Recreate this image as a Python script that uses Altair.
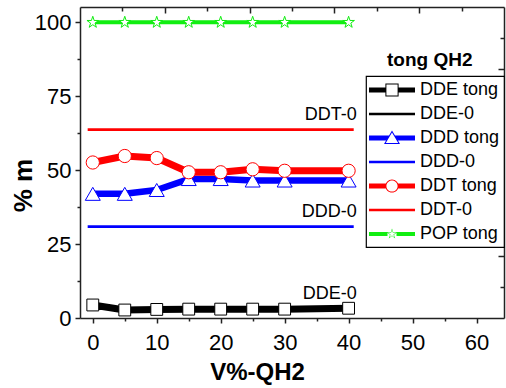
import altair as alt
import pandas as pd

FONT = "Liberation Sans"
PLOT_W, PLOT_H = 424, 311

# V%-QH2 sampling points
v_qh2 = [0, 5, 10, 15, 20, 25, 30, 40]

# % m of each compound at every sampling point
dde_tong = [4.4, 2.7, 2.9, 3.0, 3.0, 3.0, 3.0, 3.3]
ddd_tong = [42.0, 42.0, 43.3, 47.0, 47.0, 46.5, 46.5, 46.5]
ddt_tong = [52.6, 54.8, 54.1, 49.3, 49.3, 50.3, 49.8, 49.8]
pop_tong = [100, 100, 100, 100, 100, 100, 100, 100]

# initial levels, drawn as flat reference lines
ref_names = ["DDE-0", "DDD-0", "DDT-0"]
ref_levels = [3.2, 30.9, 63.7]
ref_span = [-0.8, 40.8]

tong_names = ["DDE tong", "DDD tong", "DDT tong", "POP tong"]
tong_values = [dde_tong, ddd_tong, ddt_tong, pop_tong]

series_order = ["DDE tong", "DDE-0", "DDD tong", "DDD-0", "DDT tong", "DDT-0", "POP tong"]
series_colors = ["#000000", "#000000", "#0000ff", "#0000ff", "#ff0000", "#ff0000", "#11ee11"]
line_widths = [7, 2.7, 6.5, 2.7, 7, 2.7, 4]

tong_df = pd.DataFrame([
    {"series": n, "x": x, "y": y}
    for n, vals in zip(tong_names, tong_values)
    for x, y in zip(v_qh2, vals)
])
ref_df = pd.DataFrame([
    {"series": n, "x": x, "y": lvl}
    for n, lvl in zip(ref_names, ref_levels)
    for x in ref_span
])
label_df = pd.DataFrame({
    "series": ref_names,
    "x": [ref_span[1]] * len(ref_names),
    "y": ref_levels,
})

# ---------------------------------------------------------------- symbols
STAR_UNIT = [(0, -1), (0.2245, -0.309), (0.9511, -0.309), (0.3633, 0.118),
             (0.5878, 0.809), (0, 0.382), (-0.5878, 0.809), (-0.3633, 0.118),
             (-0.9511, -0.309), (-0.2245, -0.309)]


def poly(points):
    return "M" + "L".join(f"{x:.3f},{y:.3f}" for x, y in points) + "Z"


STAR = poly(STAR_UNIT)


def rect(x0, x1, h):
    return f"M{x0},{-h}H{x1}V{h}H{x0}Z"


def split_line(gap, h, half_len=2.3):
    return rect(-half_len, -gap, h) + rect(gap, half_len, h)


def square_ring(a, b):
    return f"M{-a},{-a}H{a}V{a}H{-a}Z" + f"M{-b},{-b}V{b}H{b}V{-b}Z"


def circle_ring(r, ri):
    outer = f"M{-r},0A{r},{r} 0 1 1 {r},0A{r},{r} 0 1 1 {-r},0Z"
    inner = f"M{-ri},0A{ri},{ri} 0 1 0 {ri},0A{ri},{ri} 0 1 0 {-ri},0Z"
    return outer + inner


def triangle_symbol(h, half_len=2.3):
    # outline ring plus the line pieces that stop at the triangle sides
    apex, base, half_w = -0.75, 0.6, 0.8
    slope = half_w / (base - apex)
    xt, xb = slope * (-h - apex), slope * (h - apex)
    left = poly([(-half_len, -h), (-xt, -h), (-xb, h), (-half_len, h)])
    right = poly([(xt, -h), (half_len, -h), (half_len, h), (xb, h)])
    outer = poly([(0, apex), (half_w, base), (-half_w, base)])
    inner = poly([(0, -0.554), (-0.624, 0.5), (0.624, 0.5)])
    return left + right + outer + inner


def star_ring(r, ri):
    outer = poly([(x * r, y * r) for x, y in STAR_UNIT])
    inner = poly([(x * ri, y * ri) for x, y in reversed(STAR_UNIT)])
    return outer + inner


thin = rect(-2.3, 2.3, 0.13)
legend_paths = [
    split_line(0.62, 0.26) + square_ring(0.66, 0.56),
    thin,
    triangle_symbol(0.26),
    thin,
    split_line(0.6, 0.26) + circle_ring(0.66, 0.56),
    thin,
    split_line(0.45, 0.2) + star_ring(0.55, 0.4),
]

marker_style = {
    "DDE tong": ("square", 140),
    "DDD tong": ("triangle-up", 225),
    "DDT tong": ("circle", 175),
    "POP tong": (STAR, 150),
}

# ---------------------------------------------------------------- scales/axes
x_scale = alt.Scale(domain=[-2, 64.3], nice=False, zero=False)
y_scale = alt.Scale(domain=[0, 105.2], nice=False, zero=False)
frame_scale = alt.Scale(domain=[0, 10], nice=False, zero=False)


def tick_len(test, major, minor):
    return {"condition": {"test": test, "value": major}, "value": minor}


x_axis = alt.Axis(
    orient="bottom", values=list(range(0, 61, 5)),
    labelExpr="datum.value % 10 === 0 ? datum.label : ''",
    tickSize=tick_len("datum.value % 10 === 0", 5, 3),
    labelPadding=9, title="V%-QH2",
    titleX=177, titleY=61, titleBaseline="alphabetic", titleFontSize=24,
)
y_axis = alt.Axis(
    orient="left", values=[i * 12.5 for i in range(9)],
    labelExpr="datum.value % 25 === 0 ? datum.label : ''",
    tickSize=tick_len("datum.value % 25 === 0", 5, 3),
    labelPadding=4, title="% m",
    titleX=-49, titleY=178, titleAngle=270, titleBaseline="alphabetic",
    titleFontSize=26,
)
# frame axes on the top and right edges, ticks pointing into the plot
top_axis = alt.Axis(
    orient="bottom", offset=-PLOT_H, values=list(range(1, 10)),
    labels=False, title=None,
    tickSize=tick_len("datum.value % 2 === 0", 6, 4),
)
right_axis = alt.Axis(
    orient="left", offset=-PLOT_W, values=list(range(1, 10)),
    labels=False, title=None,
    tickSize=tick_len("datum.value % 2 === 0", 6, 4),
)

X = alt.X("x:Q", scale=x_scale, axis=None)
Y = alt.Y("y:Q", scale=y_scale, axis=None)


def style_of(name):
    i = series_order.index(name)
    return series_colors[i], line_widths[i]


# flat initial-level lines; the first one carries the bottom and left axes
layers = []
for name in ref_names:
    color, width = style_of(name)
    enc = dict(x=X, y=Y)
    if not layers:
        enc = dict(x=alt.X("x:Q", scale=x_scale, axis=x_axis),
                   y=alt.Y("y:Q", scale=y_scale, axis=y_axis))
    layers.append(
        alt.Chart(ref_df).transform_filter(alt.datum.series == name)
        .mark_line(color=color, strokeWidth=width, strokeCap="butt")
        .encode(**enc)
    )

layers.append(
    alt.Chart(label_df).mark_text(
        align="right", baseline="alphabetic", dx=3, dy=-10,
        font=FONT, fontSize=18, color="black",
    ).encode(x=X, y=Y, text="series:N")
)

for name in tong_names:
    shape, size = marker_style[name]
    color, width = style_of(name)
    subset = alt.Chart(tong_df).transform_filter(alt.datum.series == name)
    layers.append(
        subset.mark_line(color=color, strokeWidth=width, strokeJoin="round")
        .encode(x=X, y=Y)
    )
    layers.append(
        subset.mark_point(
            shape=shape, size=size, filled=True, fill="white",
            stroke=color, strokeWidth=1, opacity=1,
        ).encode(x=X, y=Y)
    )

legend = alt.Legend(
    title=None, orient="none", legendX=286, legendY=69,
    symbolSize=400, symbolOffset=12, labelOffset=18,
    labelFont=FONT, labelFontSize=18, labelColor="black", labelLimit=300,
    rowPadding=5, padding=4, strokeColor="black", fillColor="white",
    symbolStrokeWidth=0, symbolOpacity=1,
)

# legend entries plus the top and right frame ticks
layers.append(
    alt.Chart(tong_df).transform_filter("false").mark_point(
        filled=True, opacity=1,
    ).encode(
        x=alt.X("x:Q", scale=frame_scale, axis=top_axis),
        y=alt.Y("y:Q", scale=frame_scale, axis=right_axis),
        fill=alt.Fill("series:N", scale=alt.Scale(domain=series_order, range=series_colors), legend=legend),
        shape=alt.Shape("series:N", scale=alt.Scale(domain=series_order, range=legend_paths), legend=legend),
    )
)

chart = alt.layer(*layers).resolve_scale(
    x="independent", y="independent"
).properties(
    width=PLOT_W, height=PLOT_H,
    autosize=alt.AutoSizeParams(type="none"),
    padding={"left": 80, "top": 7, "right": 2, "bottom": 70},
    title=alt.TitleParams(
        "tong QH2", anchor="start", frame="group", dx=307, dy=68,
        font=FONT, fontSize=19, fontWeight="bold", color="black",
    ),
    background="white",
).configure_view(stroke=None).configure_axis(
    grid=False, domainColor="#222222", tickColor="#222222",
    domainWidth=1.5, tickWidth=1.5,
    labelFont=FONT, labelFontSize=22, labelColor="black",
    titleFont=FONT, titleFontWeight="bold", titleColor="black",
).configure_legend(strokeWidth=1.2)

chart.save("out.html", embed_options={"renderer": "svg", "actions": False})
